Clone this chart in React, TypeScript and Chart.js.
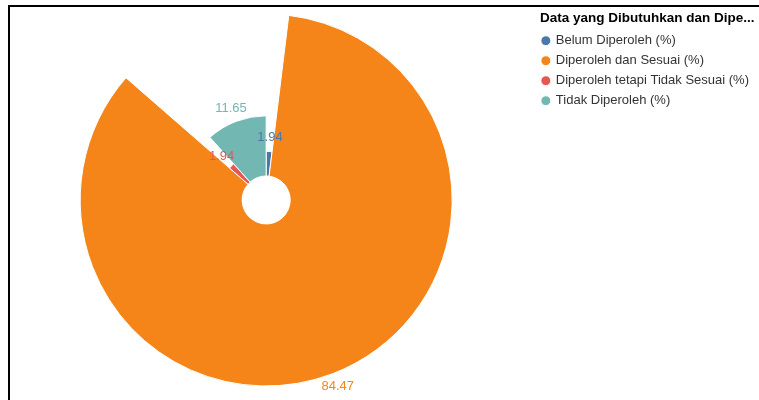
import { useEffect, useRef } from "react";
import { Chart, registerables } from "chart.js";

Chart.register(...registerables);

const categories = [
  "Belum Diperoleh (%)",
  "Diperoleh dan Sesuai (%)",
  "Diperoleh tetapi Tidak Sesuai (%)",
  "Tidak Diperoleh (%)",
];
const values = [1.94, 84.47, 1.94, 11.65];
const colors = ["#4c78a8", "#f58518", "#e45756", "#72b7b2"];
const legendTitle = "Data yang Dibutuhkan dan Dipe...";

const FONT = "'Liberation Sans', Arial, Helvetica, sans-serif";

const radialPlugin = {
  id: "radialLengths",
  afterDatasetsUpdate(chart: any) {
    const meta = chart.getDatasetMeta(0);
    const ctrl = meta.controller as any;
    const inner = ctrl.innerRadius;
    const outer = ctrl.outerRadius;
    const data = chart.data.datasets[0].data as number[];
    const max = Math.max(...data);
    meta.data.forEach((arc: any, i: number) => {
      arc.outerRadius = inner + (outer - inner) * Math.sqrt(data[i] / max);
    });
  },
  afterDatasetsDraw(chart: any) {
    const ctx = chart.ctx as CanvasRenderingContext2D;
    const meta = chart.getDatasetMeta(0);
    const data = chart.data.datasets[0].data as number[];
    ctx.save();
    ctx.font = `13px ${FONT}`;
    ctx.textAlign = "center";
    ctx.textBaseline = "middle";
    meta.data.forEach((arc: any, i: number) => {
      const a = (arc.startAngle + arc.endAngle) / 2;
      const r = arc.outerRadius + 14;
      ctx.fillStyle = colors[i];
      ctx.fillText(String(data[i]), arc.x + Math.cos(a) * r, arc.y + Math.sin(a) * r);
    });
    ctx.restore();
  },
};

export default function App() {
  const ref = useRef<HTMLCanvasElement>(null);
  useEffect(() => {
    const chart = new Chart(ref.current!, {
      type: "doughnut",
      data: {
        labels: categories,
        datasets: [
          {
            data: values,
            backgroundColor: colors,
            borderColor: "#ffffff",
            borderWidth: 1,
          },
        ],
      },
      options: {
        responsive: false,
        maintainAspectRatio: false,
        animation: false,
        events: [],
        radius: 186,
        cutout: 25,
        layout: { padding: { top: 6, bottom: 6, left: 0, right: 0 } },
        plugins: {
          tooltip: { enabled: false },
          legend: {
            position: "right",
            align: "start",
            title: {
              display: true,
              text: legendTitle,
              color: "#000",
              font: { family: FONT, size: 13.5, weight: "bold" },
              padding: { top: 6, bottom: -1 },
            },
            labels: {
              usePointStyle: true,
              pointStyle: "circle",
              boxWidth: 7,
              boxHeight: 7,
              padding: 7,
              color: "#333",
              font: { family: FONT, size: 13 },
            },
          },
        },
      } as any,
      plugins: [radialPlugin],
    });
    return () => chart.destroy();
  }, []);
  return (
    <div
      style={{
        position: "fixed",
        left: 0,
        top: 0,
        width: 759,
        height: 400,
        background: "#fff",
        overflow: "hidden",
      }}
    >
      <div
        style={{
          position: "absolute",
          left: 8,
          top: 5,
          width: 800,
          height: 500,
          borderTop: "2px solid #000",
          borderLeft: "2px solid #000",
        }}
      />
      <canvas
        ref={ref}
        width={762}
        height={400}
        style={{ position: "absolute", left: -3, top: 0, width: 762, height: 400 }}
      />
    </div>
  );
}
